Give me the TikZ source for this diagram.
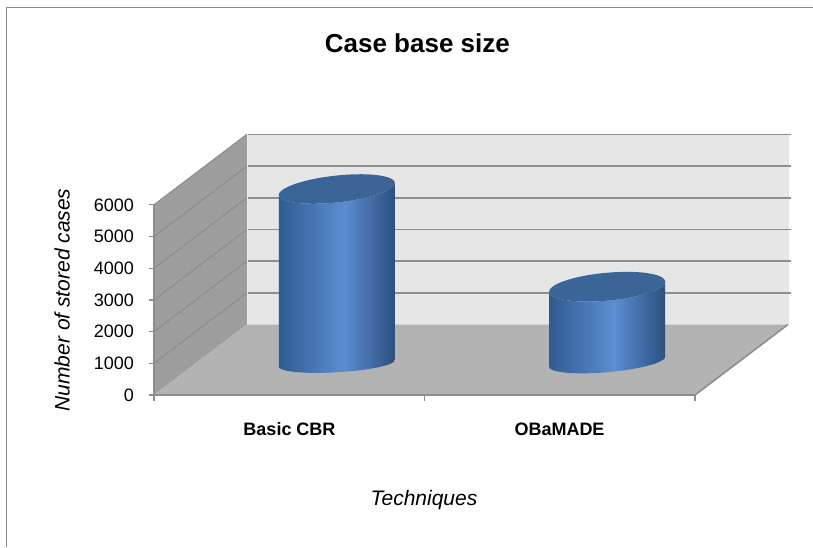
\documentclass[tikz,border=0pt]{standalone}
\usepackage{fontspec}
\setmainfont{Liberation Sans}
\usetikzlibrary{positioning}
\definecolor{wallback}{HTML}{E6E6E6}
\definecolor{wallside}{HTML}{9E9E9E}
\definecolor{floorgray}{HTML}{B3B3B3}
\definecolor{gridgray}{HTML}{8E8E8E}
\definecolor{framegray}{HTML}{8A8A8A}
\definecolor{cyldark}{HTML}{2F5B8F}
\definecolor{cyllight}{HTML}{5B8ED2}
\definecolor{cyledge}{HTML}{2C4F7F}
\definecolor{cyltop}{HTML}{3C6597}
\pgfdeclarehorizontalshading{cylshade}{100bp}{color(0bp)=(cyldark); color(25bp)=(cyldark); color(53bp)=(cyllight); color(75bp)=(cyledge); color(100bp)=(cyledge)}
\tikzset{
  gridline/.style={gridgray, line width=1.6pt},
  ticklabel/.style={font=\fontsize{18}{20}\selectfont},
  catlabel/.style={font=\bfseries\fontsize{18}{20}\selectfont},
  axistitle/.style={font=\itshape\fontsize{21}{24}\selectfont}
}

\begin{document}
\begin{tikzpicture}[x=1pt, y=-1pt, every node/.style={inner sep=0pt}]
  \useasboundingbox (0,0) rectangle (813,547);
  \def\xf{154} \def\xr{695} \def\yf{395}
  \def\dx{93} \def\dy{70.5} \def\lev{31.7}
  \fill[wallback] (\xf+\dx,\yf-\dy) rectangle (\xr+\dx+1,\yf-\dy-6*\lev);
  \foreach \k in {1,...,6}
    \draw[gridline] (\xf+\dx,\yf-\dy-\k*\lev) -- (\xr+\dx+3,\yf-\dy-\k*\lev);
  \fill[wallside] (\xf,\yf) -- (\xf,\yf-6*\lev) -- (\xf+\dx,\yf-\dy-6*\lev) -- (\xf+\dx,\yf-\dy) -- cycle;
  \foreach \k in {1,...,6}
    \draw[gridline, line width=1.2pt] (\xf,\yf-\k*\lev) -- (\xf+\dx,\yf-\dy-\k*\lev);
  \draw[white!85!gray, line width=0.8pt] (\xf+\dx,\yf-\dy) -- (\xf+\dx,\yf-\dy-6*\lev);
  \fill[floorgray] (\xf,\yf) -- (\xr,\yf) -- (\xr+\dx,\yf-\dy) -- (\xf+\dx,\yf-\dy) -- cycle;
  \draw[gridline] (\xr,\yf) -- (\xr+\dx,\yf-\dy);
  \draw[gridline] (\xf,\yf) -- (\xf,\yf-6*\lev);
  \draw[gridline, line width=2.6pt] (\xf,\yf) -- (\xr,\yf);
  \foreach \k in {0,...,6} {
    \draw[gridline, line width=1.2pt] (\xf-5,\yf-\k*\lev) -- (\xf,\yf-\k*\lev);
    \coordinate (tk\k) at (\xf-5,\yf-\k*\lev);
    \pgfmathtruncatemacro{\val}{1000*\k}
    \node[ticklabel, left=15pt of tk\k, anchor=east] (tick\k) {\val};
  }
  \foreach \x in {\xf,424.5,\xr}
    \draw[gridline, line width=1.2pt] (\x,\yf) -- (\x,\yf+6);
  \foreach \cx/\yt/\bt/\kt/\yb/\bb/\kb in {336.8/189/13.5/6/363.3/9/3.3, 607.2/286.7/14/5/361.7/10.5/5} {
    \shade[shading=cylshade] (\cx-58,\yt+\kt) -- (\cx-58,\yb+\kb)
      -- plot[domain=180:0, samples=37] ({\cx+58*cos(\x)}, {\yb-\kb*cos(\x)+\bb*sin(\x)})
      -- (\cx+58,\yt-\kt)
      -- plot[domain=0:180, samples=37] ({\cx+58*cos(\x)}, {\yt-\kt*cos(\x)+\bt*sin(\x)}) -- cycle;
    \fill[cyltop] plot[domain=0:360, samples=73] ({\cx+58*cos(\x)}, {\yt-\kt*cos(\x)+\bt*sin(\x)}) -- cycle;
  }
  \draw[framegray, line width=1.6pt] (6.5,547) -- (6.5,7.5) -- (813,7.5);
  \node[font=\bfseries\fontsize{26}{30}\selectfont] (title) at (417.4,43) {Case base size};
  \node[catlabel] (cat1) at (289.5,429) {Basic CBR};
  \node[catlabel] (cat2) at (559.5,429) {OBaMADE};
  \node[axistitle] (xtitle) at (424,500) {Techniques};
  \node[axistitle, rotate=90] (ytitle) at (62,300) {Number of stored cases};
\end{tikzpicture}
\end{document}
